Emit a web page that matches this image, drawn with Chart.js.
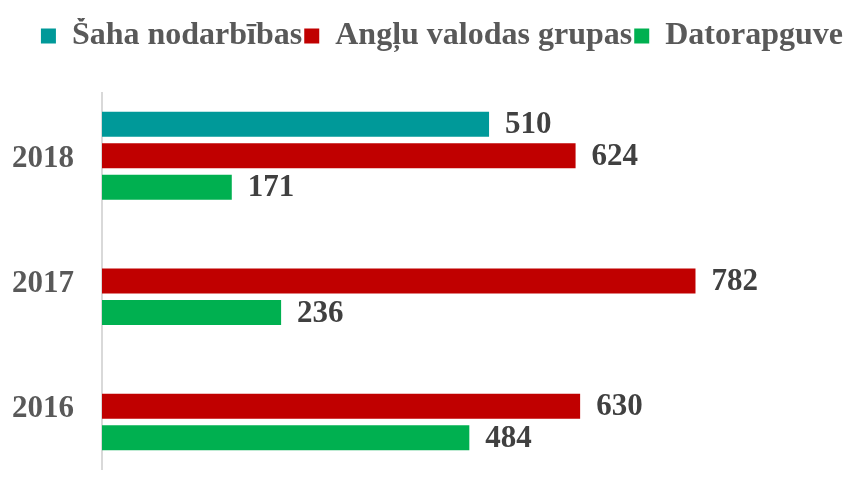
<!DOCTYPE html>
<html>
<head>
<meta charset="utf-8">
<script src="https://cdn.jsdelivr.net/npm/chart.js@4"></script>
<style>
  html, body { margin: 0; padding: 0; background: #ffffff; }
  #wrap { width: 845px; height: 493px; }
</style>
</head>
<body>
<div id="wrap"><canvas id="chart"></canvas></div>
<script>
const years = ['2018', '2017', '2016'];
const chess = [510, null, null];
const english = [624, 782, 630];
const computers = [171, 236, 484];
const seriesNames = ['Šaha nodarbības', 'Angļu valodas grupas', 'Datorapguve'];

document.addEventListener('DOMContentLoaded', function () {

    // value labels to the right of each bar
    const barLabels = {
        id: 'barLabels',
        afterDatasetsDraw(chart) {
            const ctx = chart.ctx;
            ctx.save();
            ctx.font = 'bold 31px "Liberation Serif", "Times New Roman", serif';
            ctx.fillStyle = '#404040';
            ctx.textAlign = 'left';
            ctx.textBaseline = 'middle';
            chart.data.datasets.forEach((ds, i) => {
                chart.getDatasetMeta(i).data.forEach((bar, j) => {
                    const v = ds.data[j];
                    if (v == null) return;
                    ctx.fillText(String(v), bar.x + 16, bar.y + 1);
                });
            });
            ctx.restore();
        }
    };

    // extra room between legend and plot
    const legendGap = {
        id: 'legendGap',
        beforeInit(chart) {
            const fit = chart.legend.fit;
            chart.legend.fit = function () {
                fit.call(this);
                this.height += 31;
            };
        }
    };

    Chart.defaults.font.family = '"Liberation Serif", "Times New Roman", serif';
    Chart.defaults.color = '#595959';

    new Chart(document.getElementById('chart'), {
        type: 'bar',
        data: {
            labels: years,
            datasets: [
                { label: seriesNames[0], data: chess, backgroundColor: '#009999' },
                { label: seriesNames[1], data: english, backgroundColor: '#C00000' },
                { label: seriesNames[2], data: computers, backgroundColor: '#00B050' }
            ]
        },
        options: {
            indexAxis: 'y',
            responsive: true,
            maintainAspectRatio: false,
            animation: false,
            categoryPercentage: 0.754,
            barPercentage: 0.794,
            layout: {
                padding: { top: 18, right: 0, bottom: 24, left: 0 }
            },
            scales: {
                x: {
                    display: false,
                    min: 0,
                    max: 979
                },
                y: {
                    grid: { display: false, drawTicks: false },
                    border: { display: true, color: '#d9d9d9', width: 2 },
                    ticks: {
                        padding: 28,
                        labelOffset: 3,
                        color: '#595959',
                        font: { size: 31, weight: 'bold' }
                    },
                    afterFit(scale) {
                        scale.width = 102;
                        scale.paddingTop = 0;
                        scale.paddingBottom = 0;
                    }
                }
            },
            plugins: {
                tooltip: { enabled: false },
                legend: {
                    position: 'top',
                    align: 'end',
                    labels: {
                        boxWidth: 15,
                        boxHeight: 15,
                        padding: 2,
                        color: '#595959',
                        font: { size: 32, weight: 'bold' }
                    }
                }
            }
        },
        plugins: [barLabels, legendGap]
    });
});
</script>
</body>
</html>
